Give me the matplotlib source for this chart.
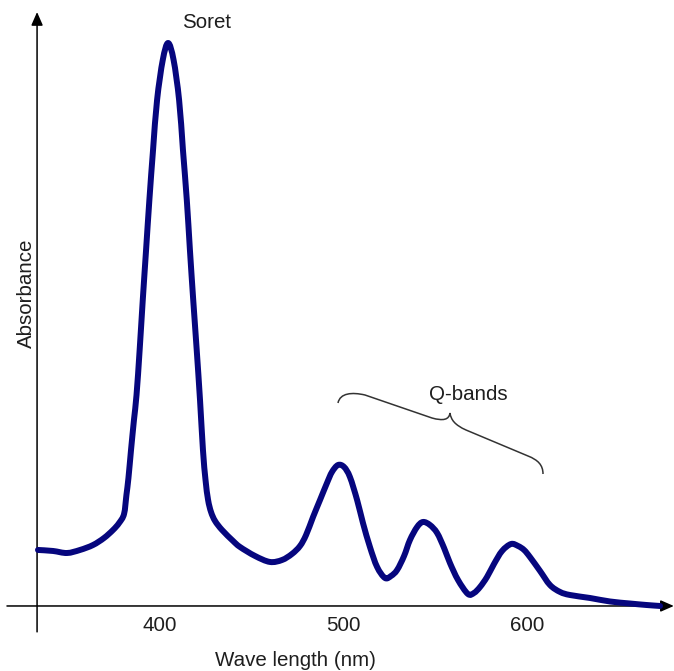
import matplotlib
matplotlib.use("Agg")
import matplotlib.pyplot as plt
from matplotlib.path import Path
from matplotlib.patches import PathPatch
from matplotlib.transforms import Affine2D

plt.rcParams['font.family'] = ['Liberation Sans', 'DejaVu Sans']

# Spectrum (wavelength in nm, absorbance in arbitrary units)
wavelength = [333.5, 341.7, 349.3, 356.4, 363.5, 369.5, 374.4, 377.7, 380.4, 381.7,
              382.8, 384.2, 385.8, 387.2, 388.9, 390.6, 392.4, 394.2, 396.2, 398.4,
              401.5, 404.4, 407.4, 410.4, 412.5, 414.6, 416.3, 418.1, 420.0, 421.8,
              423.4, 424.8, 426.2, 427.8, 430.0, 433.8, 439.8, 443.6, 451.8, 459.9,
              466.5, 471.9, 476.3, 479.6, 483.4, 487.2, 491.0, 493.7, 497.0, 500.3,
              503.5, 507.4, 510.6, 514.4, 518.3, 522.6, 525.9, 529.2, 533.0, 536.2,
              540.1, 543.3, 547.1, 551.0, 554.8, 558.0, 562.4, 567.8, 571.1, 574.4,
              578.2, 582.0, 586.4, 591.3, 595.1, 598.4, 601.6, 607.1, 612.5, 618.0,
              623.4, 634.3, 645.2, 656.1, 664.9, 672.5]
absorbance = [0.0995, 0.0977, 0.0941, 0.0995, 0.1083, 0.1208, 0.1350, 0.1474, 0.1634, 0.1972,
              0.2274, 0.2771, 0.3304, 0.3748, 0.4547, 0.5435, 0.6323, 0.7211, 0.8099, 0.8988,
              0.9698, 1.0000, 0.9698, 0.8988, 0.8099, 0.7211, 0.6323, 0.5435, 0.4547, 0.3659,
              0.2771, 0.2238, 0.1883, 0.1670, 0.1510, 0.1350, 0.1155, 0.1048, 0.0888, 0.0782,
              0.0817, 0.0924, 0.1066, 0.1261, 0.1581, 0.1883, 0.2185, 0.2380, 0.2504, 0.2469,
              0.2291, 0.1883, 0.1474, 0.1048, 0.0693, 0.0497, 0.0533, 0.0639, 0.0888, 0.1172,
              0.1403, 0.1492, 0.1439, 0.1297, 0.1030, 0.0764, 0.0462, 0.0213, 0.0231, 0.0337,
              0.0515, 0.0746, 0.0977, 0.1101, 0.1066, 0.0995, 0.0870, 0.0622, 0.0373, 0.0249,
              0.0195, 0.0142, 0.0080, 0.0044, 0.0018, 0.0000]

tick_values = [400, 500, 600]
tick_labels = ["400", "500", "600"]
x_label = "Wave length (nm)"
y_label = "Absorbance"
soret_label = "Soret"
q_label = "Q-bands"

W, H = 674, 671
fig = plt.figure(figsize=(W / 100, H / 100), dpi=100)
ax = fig.add_axes([0, 0, 1, 1])
ax.set_xlim(312.8, 680.1)
ax.set_ylim(-0.1155, 1.0764)
ax.axis('off')

# spectrum: smooth curve through the read points (Catmull-Rom drawn as Bezier path)
pts = list(zip(wavelength, absorbance))
verts = [pts[0]]
codes = [Path.MOVETO]
n = len(pts)
for i in range(n - 1):
    p0 = pts[i - 1] if i > 0 else pts[i]
    p1 = pts[i]
    p2 = pts[i + 1]
    p3 = pts[i + 2] if i + 2 < n else pts[i + 1]
    c1 = (p1[0] + (p2[0] - p0[0]) / 6, p1[1] + (p2[1] - p0[1]) / 6)
    c2 = (p2[0] - (p3[0] - p1[0]) / 6, p2[1] - (p3[1] - p1[1]) / 6)
    verts += [c1, c2, p2]
    codes += [Path.CURVE4] * 3
curve = PathPatch(Path(verts, codes), transform=ax.transData, fill=False,
                  edgecolor='#06067e', lw=4.3, joinstyle='round', capstyle='round',
                  zorder=3)
ax.add_patch(curve)

# axes with arrows
arrow = dict(arrowstyle='-|>,head_length=0.8,head_width=0.35', color='black',
             lw=1.1, shrinkA=0, shrinkB=0)
ax.annotate('', xy=(680.0, 0), xytext=(316.6, 0), arrowprops=arrow, zorder=2)
ax.annotate('', xy=(333.0, 1.055), xytext=(333.0, -0.046), arrowprops=arrow, zorder=2)

fs = 14.8
tc = '#1e1e1e'
# tick labels
for v, lab in zip(tick_values, tick_labels):
    ax.text(v, -0.0355, lab, ha='center', va='center', fontsize=fs, color=tc)

ax.text(473.9, -0.0975, x_label, ha='center', va='center', fontsize=fs, color=tc)
ax.text(327.3, 0.5560, y_label, ha='center', va='center', rotation=90,
        fontsize=fs, color=tc)
ax.text(425.1, 1.0373, soret_label, ha='center', va='center', fontsize=fs, color=tc)
ax.text(567.8, 0.3748, q_label, ha='center', va='center', fontsize=fs, color=tc)

# curly brace over the Q-bands (pixel coordinates, origin top-left)
px = Affine2D().scale(1 / W, -1 / H).translate(0, 1) + fig.transFigure
bverts = [(338, 403), (340, 393), (352, 392), (365, 395),
          (432, 418),
          (443, 421), (449, 420), (450, 413),
          (451, 420), (455, 425), (466, 430),
          (528, 456),
          (538, 460), (543, 465), (543, 474)]
bcodes = [Path.MOVETO, Path.CURVE4, Path.CURVE4, Path.CURVE4,
          Path.LINETO,
          Path.CURVE4, Path.CURVE4, Path.CURVE4,
          Path.CURVE4, Path.CURVE4, Path.CURVE4,
          Path.LINETO,
          Path.CURVE4, Path.CURVE4, Path.CURVE4]
brace = PathPatch(Path(bverts, bcodes), transform=px, fill=False,
                  edgecolor='#333333', lw=1.1)
fig.add_artist(brace)

fig.savefig('out.png', dpi=100)
